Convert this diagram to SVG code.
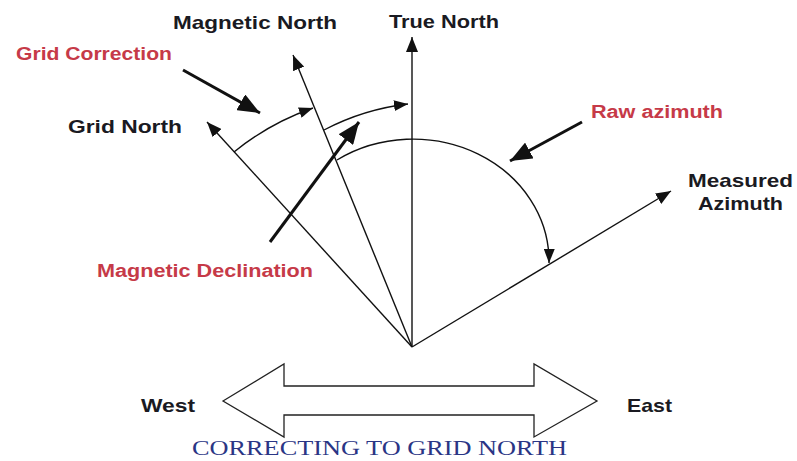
<svg xmlns="http://www.w3.org/2000/svg" width="797" height="461" viewBox="0 0 797 461">
<defs>
<style>
.t{font-family:"Liberation Sans",Arial,sans-serif;font-weight:bold;font-size:19px;fill:#1a1a22}
.r{font-family:"Liberation Sans",Arial,sans-serif;font-weight:bold;font-size:18px;fill:#c63a48}
.ln{stroke:#111;stroke-width:1.4;fill:none}
.th{stroke:#111;stroke-width:3;fill:none}
.cap{font-family:"Liberation Serif","Times New Roman",serif;font-size:20px;fill:#2a3585}
</style>
<marker id="ah" viewBox="0 0 15 12" refX="15" refY="6" markerWidth="15" markerHeight="12" markerUnits="userSpaceOnUse" orient="auto"><path d="M0,0 L15,6 L0,12 z" fill="#111"/></marker>
<marker id="ahs" viewBox="0 0 14 11" refX="14" refY="5.5" markerWidth="14" markerHeight="11" markerUnits="userSpaceOnUse" orient="auto"><path d="M0,0 L14,5.5 L0,11 z" fill="#111"/></marker>
<marker id="big" viewBox="0 0 22 18" refX="22" refY="9" markerWidth="22" markerHeight="18" markerUnits="userSpaceOnUse" orient="auto"><path d="M0,0 L22,9 L0,18 z" fill="#111"/></marker>
</defs>
<rect width="797" height="461" fill="#fff"/>
<g id="connectors">
<line class="ln" x1="412" y1="347" x2="412" y2="37" marker-end="url(#ah)"/>
<line class="ln" x1="412" y1="347" x2="293" y2="55" marker-end="url(#ah)"/>
<line class="ln" x1="412" y1="347" x2="207" y2="122" marker-end="url(#ah)"/>
<line class="ln" x1="412" y1="347" x2="671" y2="191" marker-end="url(#ah)"/>
<path class="ln" d="M234,152 A261,261 0 0 1 313,108" marker-end="url(#ahs)"/>
<path class="ln" d="M324,130 A240,240 0 0 1 408,104" marker-end="url(#ahs)"/>
<path class="ln" d="M337,160 A136,122 0 0 1 549,263" marker-end="url(#ahs)"/>
<line class="th" x1="183" y1="70" x2="260" y2="113" marker-end="url(#big)"/>
<line class="th" x1="270" y1="242" x2="359" y2="122" marker-end="url(#big)"/>
<line class="th" x1="582" y1="122" x2="510" y2="161" marker-end="url(#big)"/>
</g>
<g id="ew-arrow">
<path d="M223,401 L284,364 L284,386 L534,386 L534,364 L597,401 L534,437 L534,415 L284,415 L284,437 Z" fill="#fff" stroke="#222" stroke-width="1.3"/>
</g>
<g id="true-north"><text class="t" x="389" y="28" textLength="110" lengthAdjust="spacingAndGlyphs">True North</text></g>
<g id="magnetic-north"><text class="t" x="173" y="29" textLength="164" lengthAdjust="spacingAndGlyphs">Magnetic North</text></g>
<g id="grid-north"><text class="t" x="68" y="133" textLength="114" lengthAdjust="spacingAndGlyphs">Grid North</text></g>
<g id="measured-azimuth">
<text class="t" x="688" y="187" textLength="105" lengthAdjust="spacingAndGlyphs">Measured</text>
<text class="t" x="698" y="210" textLength="85" lengthAdjust="spacingAndGlyphs">Azimuth</text>
</g>
<g id="grid-correction"><text class="r" x="16" y="60" textLength="156" lengthAdjust="spacingAndGlyphs">Grid Correction</text></g>
<g id="magnetic-declination"><text class="r" x="97" y="277" textLength="216" lengthAdjust="spacingAndGlyphs">Magnetic Declination</text></g>
<g id="raw-azimuth"><text class="r" x="591" y="118" textLength="132" lengthAdjust="spacingAndGlyphs">Raw azimuth</text></g>
<g id="west"><text class="t" x="141" y="412" textLength="54" lengthAdjust="spacingAndGlyphs">West</text></g>
<g id="east"><text class="t" x="627" y="412" textLength="45" lengthAdjust="spacingAndGlyphs">East</text></g>
<g id="caption"><text class="cap" x="192" y="455" textLength="375" lengthAdjust="spacingAndGlyphs">CORRECTING TO GRID NORTH</text></g>
</svg>
